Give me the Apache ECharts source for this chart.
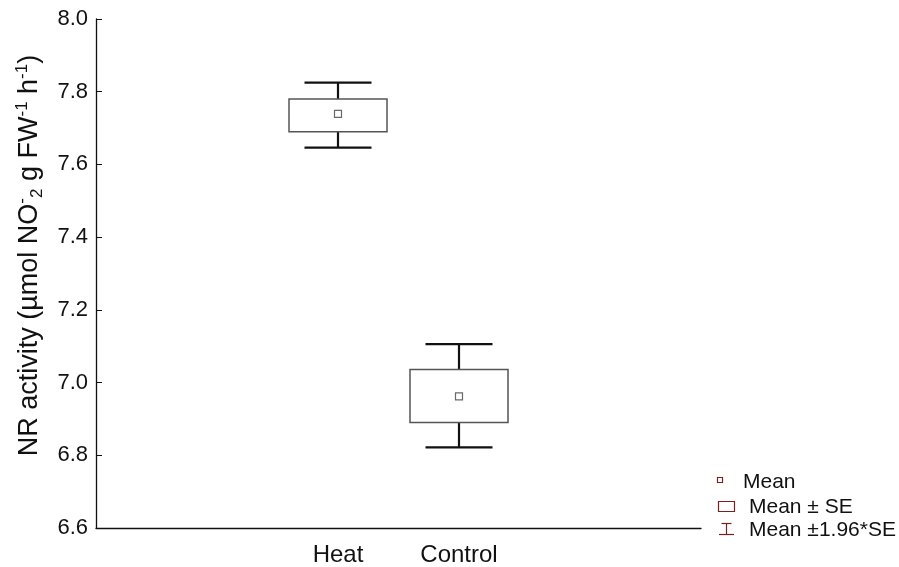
<!DOCTYPE html>
<html>
<head>
<meta charset="utf-8">
<script src="https://cdn.jsdelivr.net/npm/echarts@6/dist/echarts.min.js"></script>
<style>
  html, body { margin: 0; padding: 0; background: #fff; }
  #chart { width: 899px; height: 567px; }
</style>
</head>
<body>
<div id="chart"></div>
<script>
// Values (NR activity, µmol NO2- g FW-1 h-1)
const groups = ["Heat", "Control"];
const groupPos = [2, 3];            // slot on the x scale (0..5)
const means = [7.739, 6.962];
const seLow = [7.690, 6.890];
const seHigh = [7.780, 7.036];
const ciLow = [7.646, 6.822];
const ciHigh = [7.825, 7.106];

const yTicks = { min: 6.6, max: 8.0, step: 0.2 };

const INK = "#111111";
const BOX = "#555555";
const LEGEND = "#7a1f1f";
const FONT = '"Liberation Sans", Arial, sans-serif';

const chart = echarts.init(document.getElementById("chart"));

const meanData = groups.map((g, i) => [groupPos[i], means[i]]);
const boxData = groups.map((g, i) => [groupPos[i], seLow[i], seHigh[i]]);
const whiskData = groups.map((g, i) => [groupPos[i], ciLow[i], ciHigh[i]]);

function renderBox(params, api) {
  const lo = api.coord([api.value(0), api.value(1)]);
  const hi = api.coord([api.value(0), api.value(2)]);
  const w = 98;
  return {
    type: "rect",
    shape: { x: lo[0] - w / 2, y: hi[1], width: w, height: lo[1] - hi[1] },
    style: { fill: "#fff", stroke: BOX, lineWidth: 1.5 },
  };
}

function renderWhisker(params, api) {
  const lo = api.coord([api.value(0), api.value(1)]);
  const hi = api.coord([api.value(0), api.value(2)]);
  const cap = 67;
  const x = lo[0];
  const style = { stroke: INK, lineWidth: 2.2 };
  return {
    type: "group",
    children: [
      { type: "line", shape: { x1: x, y1: lo[1], x2: x, y2: hi[1] }, style },
      { type: "line", shape: { x1: x - cap / 2, y1: lo[1], x2: x + cap / 2, y2: lo[1] }, style },
      { type: "line", shape: { x1: x - cap / 2, y1: hi[1], x2: x + cap / 2, y2: hi[1] }, style },
    ],
  };
}

// Legend is drawn by hand: the reference uses a different glyph per statistic.
const legendText = { fill: "#111", font: "21px " + FONT, textVerticalAlign: "middle" };
const legendGraphic = [
  { type: "rect", shape: { x: 717.5, y: 477.5, width: 5, height: 5 },
    style: { fill: "#fff", stroke: LEGEND, lineWidth: 1.2 } },
  { type: "text", x: 743, y: 482, style: { ...legendText, text: "Mean" } },
  { type: "rect", shape: { x: 718.5, y: 501.5, width: 16, height: 10 },
    style: { fill: "#fff", stroke: LEGEND, lineWidth: 1.2 } },
  { type: "text", x: 749, y: 507, style: { ...legendText, text: "Mean ± SE" } },
  { type: "polyline", shape: { points: [[721.5, 523.5], [731.5, 523.5]] }, style: { stroke: LEGEND, lineWidth: 1.2 } },
  { type: "polyline", shape: { points: [[726.5, 523.5], [726.5, 534.5]] }, style: { stroke: LEGEND, lineWidth: 1.2 } },
  { type: "polyline", shape: { points: [[719, 534.5], [734, 534.5]] }, style: { stroke: LEGEND, lineWidth: 1.2 } },
  { type: "text", x: 749, y: 530, style: { ...legendText, text: "Mean ±1.96*SE" } },
];

chart.setOption({
  animation: false,
  textStyle: { fontFamily: FONT },
  grid: { left: 96, right: 198, top: 19, bottom: 38 },
  xAxis: {
    type: "value",
    min: 0,
    max: 5,
    interval: 1,
    splitLine: { show: false },
    axisTick: { show: false },
    axisLine: { lineStyle: { color: INK, width: 1.3 } },
    axisLabel: {
      color: "#111",
      fontSize: 24,
      margin: 15,
      formatter: (v) => {
        const i = groupPos.indexOf(v);
        return i >= 0 ? groups[i] : "";
      },
    },
  },
  yAxis: {
    type: "value",
    min: yTicks.min,
    max: yTicks.max,
    interval: yTicks.step,
    splitLine: { show: false },
    axisLine: { show: true, lineStyle: { color: INK, width: 1.3 } },
    axisTick: { show: true, inside: true, length: 6, lineStyle: { color: INK } },
    axisLabel: { color: "#111", fontSize: 22, margin: 8, formatter: (v) => v.toFixed(1) },
    name: "NR activity (µmol NO{sup|-}{sub|2} g FW{sup|-1} h{sup|-1})",
    nameLocation: "middle",
    nameRotate: 90,
    nameGap: 50,
    nameTextStyle: {
      color: "#111",
      fontSize: 27,
      lineHeight: 32,
      padding: [0, 0, 0, 36],
      rich: {
        sup: { fontSize: 17, lineHeight: 32, verticalAlign: "top", padding: [0, 0, 13, 0] },
        sub: { fontSize: 17, lineHeight: 32, verticalAlign: "bottom", padding: [11, 0, 0, 0] },
      },
    },
  },
  series: [
    { name: "Mean ±1.96*SE", type: "custom", renderItem: renderWhisker, data: whiskData, z: 2 },
    { name: "Mean ± SE", type: "custom", renderItem: renderBox, data: boxData, z: 3 },
    {
      name: "Mean",
      type: "scatter",
      data: meanData,
      symbol: "rect",
      symbolSize: 7,
      itemStyle: { color: "#fff", borderColor: "#444", borderWidth: 1.2 },
      z: 4,
    },
  ],
  graphic: legendGraphic,
});
</script>
</body>
</html>
